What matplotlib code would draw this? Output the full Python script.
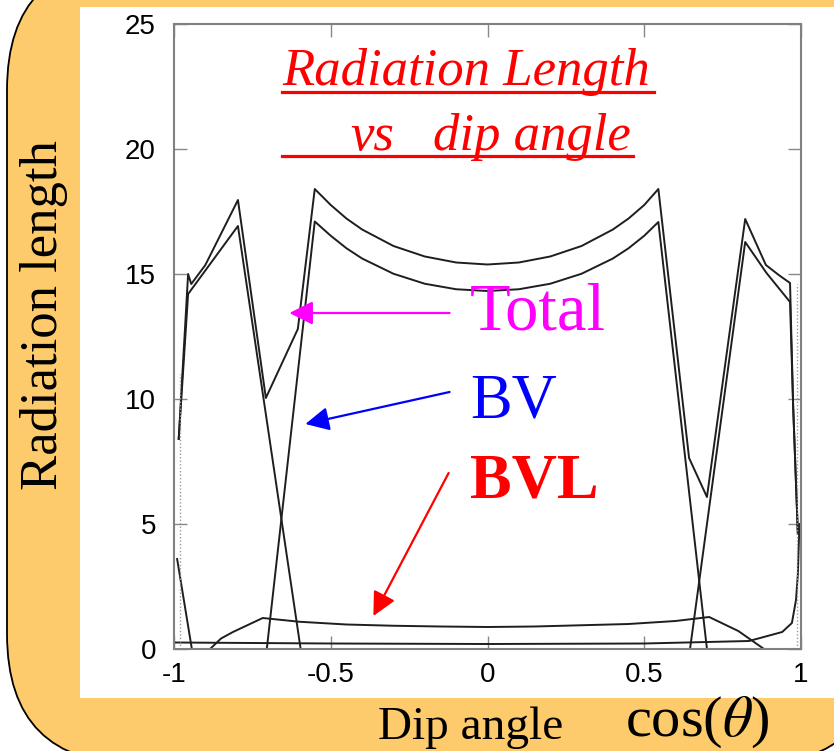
import matplotlib
matplotlib.use("Agg")
import matplotlib.pyplot as plt
from matplotlib.patches import FancyBboxPatch, Rectangle
from matplotlib.lines import Line2D
from matplotlib.transforms import IdentityTransform

# ---------------- data ----------------
total_x = [-0.985, -0.955, -0.945, -0.90, -0.796, -0.707, -0.605, -0.551, -0.5, -0.45,
           -0.4, -0.3, -0.2, -0.1, 0.0, 0.1, 0.2, 0.3, 0.4, 0.45, 0.5, 0.545,
           0.643, 0.70, 0.822, 0.888, 0.93, 0.965, 0.975, 0.99]
total_y = [8.4, 15.0, 14.6, 15.36, 17.96, 10.04, 12.8, 18.4, 17.76, 17.22,
           16.78, 16.12, 15.70, 15.46, 15.38, 15.46, 15.70, 16.12, 16.78, 17.22, 17.76, 18.4,
           7.64, 6.08, 17.2, 15.36, 14.95, 14.64, 9.7, 4.6]

bv_left_x = [-0.985, -0.955, -0.796, -0.596]
bv_left_y = [8.4, 14.2, 16.92, 0.0]

bv_mid_x = [-0.704, -0.551, -0.5, -0.45, -0.4, -0.3, -0.2, -0.1, 0.0,
            0.1, 0.2, 0.3, 0.4, 0.45, 0.5, 0.545, 0.70]
bv_mid_y = [0.0, 17.1, 16.53, 16.03, 15.62, 15.01, 14.61, 14.39, 14.32,
            14.39, 14.61, 15.01, 15.62, 16.03, 16.53, 17.08, 0.0]

bv_right_x = [0.646, 0.822, 0.89, 0.965, 0.975, 0.99]
bv_right_y = [0.0, 16.28, 15.04, 13.88, 9.7, 4.6]

bvl_x = [-0.885, -0.85, -0.812, -0.717, -0.6, -0.45, -0.3, -0.15, 0.0,
         0.15, 0.3, 0.45, 0.6, 0.707, 0.80, 0.882]
bvl_y = [0.0, 0.42, 0.68, 1.24, 1.09, 0.98, 0.93, 0.90, 0.88,
         0.90, 0.95, 1.00, 1.12, 1.28, 0.72, 0.0]

pipe_x = [-1.0, -0.5, 0.0, 0.5, 0.834, 0.94, 0.971, 0.984, 0.99, 0.995]
pipe_y = [0.26, 0.22, 0.20, 0.22, 0.32, 0.68, 1.04, 1.96, 3.0, 5.0]

edge_x = [-0.99, -0.943]
edge_y = [3.6, 0.0]

xticks = [-1, -0.5, 0, 0.5, 1]
xticklabels = ["-1", "-0.5", "0", "0.5", "1"]
yticks = [0, 5, 10, 15, 20, 25]
yticklabels = ["0", "5", "10", "15", "20", "25"]

# ---------------- figure ----------------
W, H = 834, 751
fig = plt.figure(figsize=(W / 100, H / 100), dpi=100)
fig.patch.set_facecolor("white")

SERIF = ["Liberation Serif", "DejaVu Serif"]
SANS = ["Liberation Sans", "DejaVu Sans"]
plt.rcParams["mathtext.fontset"] = "stix"

# rounded orange frame (pixel coords, y up)
frame = FancyBboxPatch((7, -13), 875, 804,
                       boxstyle="round,pad=0,rounding_size=130",
                       transform=IdentityTransform(), facecolor="#FDCB6B",
                       edgecolor="black", linewidth=1.3, zorder=-20)
fig.add_artist(frame)
white = Rectangle((80, H - 698), 834 - 80, 698 - 7, transform=IdentityTransform(),
                  facecolor="white", edgecolor="none", zorder=-19)
fig.add_artist(white)

ax = fig.add_axes([174 / W, 1 - 649 / H, (801 - 174) / W, (649 - 24) / H])
ax.set_facecolor("white")

lc = "#1e1e1e"
lw = 1.4
ax.plot(pipe_x, pipe_y, color=lc, lw=lw)
ax.plot(bvl_x, bvl_y, color=lc, lw=lw)
ax.plot(bv_left_x, bv_left_y, color=lc, lw=lw)
ax.plot(bv_mid_x, bv_mid_y, color=lc, lw=lw)
ax.plot(bv_right_x, bv_right_y, color=lc, lw=lw)
ax.plot(total_x, total_y, color=lc, lw=lw)
ax.plot(edge_x, edge_y, color=lc, lw=lw)
ax.plot([-0.982, -0.982], [0, 11], color="#999999", lw=1.0, ls=(0, (1, 1.5)))
ax.plot([0.988, 0.988], [0, 14.6], color="#999999", lw=1.0, ls=(0, (1, 1.5)))

ax.set_xlim(-1, 1)
ax.set_ylim(0, 25)
ax.set_xticks(xticks)
ax.set_xticklabels(xticklabels)
ax.set_yticks(yticks)
ax.set_yticklabels(yticklabels)
ax.tick_params(direction="in", length=9.5, width=1.0, color="#888888",
               top=True, right=True, labelsize=20)
ax.tick_params(axis="x", pad=9)
ax.tick_params(axis="y", pad=13)
for lab in ax.get_xticklabels() + ax.get_yticklabels():
    lab.set_fontfamily(SANS)
for sp in ax.spines.values():
    sp.set_color("#808080")
    sp.set_linewidth(1.5)

def fx(px):
    return px / W

def fy(py):
    return 1 - py / H

# title (red italic, underlined)
fig.text(fx(282), fy(85), "Radiation Length", color="red", style="italic",
         family=SERIF, fontsize=38, ha="left", va="baseline")
fig.text(fx(350), fy(150), "vs", color="red", style="italic",
         family=SERIF, fontsize=38, ha="left", va="baseline")
fig.text(fx(433), fy(150), "dip angle", color="red", style="italic",
         family=SERIF, fontsize=38, ha="left", va="baseline")
fig.add_artist(Line2D([fx(282), fx(654)], [fy(92), fy(92)], color="red", lw=2.3,
                      transform=fig.transFigure))
fig.add_artist(Line2D([fx(282), fx(633)], [fy(156), fy(156)], color="red", lw=2.3,
                      transform=fig.transFigure))

# labels for curves
fig.text(fx(470), fy(330), "Total", color="#FF00FF", family=SERIF, fontsize=48,
         ha="left", va="baseline")
fig.text(fx(470), fy(418), "BV", color="#0000FF", family=SERIF, fontsize=45,
         ha="left", va="baseline")
fig.text(fx(470), fy(497), "BVL", color="#FF0000", family=SERIF, fontsize=45,
         weight="bold", ha="left", va="baseline")

astyle = "-|>,head_length=0.8,head_width=0.4"
ax.annotate("", xy=(-0.632, 13.44), xytext=(-0.121, 13.44),
            arrowprops=dict(arrowstyle=astyle, color="#FF00FF", lw=1.6,
                            mutation_scale=18, shrinkA=0, shrinkB=0))
ax.annotate("", xy=(-0.581, 9.0), xytext=(-0.121, 10.28),
            arrowprops=dict(arrowstyle=astyle, color="#0000FF", lw=1.6,
                            mutation_scale=18, shrinkA=0, shrinkB=0))
ax.annotate("", xy=(-0.364, 1.32), xytext=(-0.124, 7.04),
            arrowprops=dict(arrowstyle=astyle, color="#FF0000", lw=1.6,
                            mutation_scale=18, shrinkA=0, shrinkB=0))

# axis titles
fig.text(fx(57), fy(315), "Radiation length", color="black", family=SERIF,
         fontsize=38, rotation=90, rotation_mode="anchor",
         ha="center", va="baseline")
fig.text(fx(378), fy(739), "Dip angle", color="black", family=SERIF,
         fontsize=34, ha="left", va="baseline")
fig.text(fx(625), fy(736), r"cos($\theta$)", color="black", family=SERIF,
         fontsize=42, ha="left", va="baseline")

fig.savefig("out.png", dpi=100, facecolor=fig.get_facecolor())
